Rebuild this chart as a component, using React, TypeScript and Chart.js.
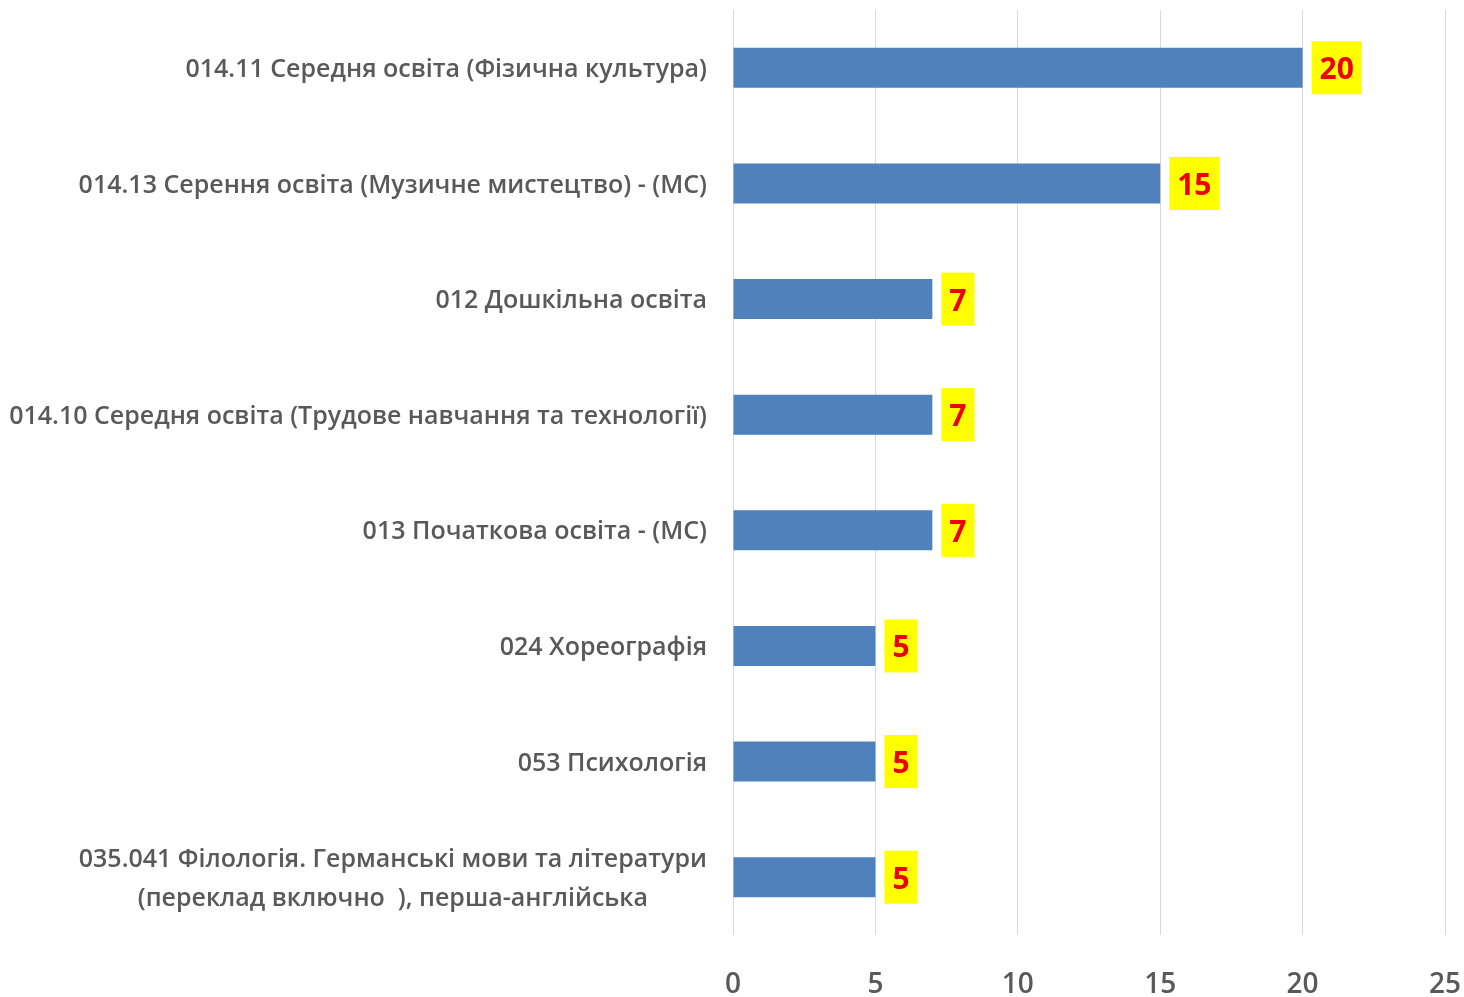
import React, { useEffect, useRef } from "react";
import { Chart, registerables } from "chart.js";

Chart.register(...registerables);

const categories: (string | string[])[] = [
  "014.11 Середня освіта (Фізична культура)",
  "014.13 Серення освіта (Музичне мистецтво) - (МС)",
  "012 Дошкільна освіта",
  "014.10 Середня освіта (Трудове навчання та технології)",
  "013 Початкова освіта - (МС)",
  "024 Хореографія",
  "053 Психологія",
  ["035.041 Філологія. Германські мови та літератури", "(переклад включно  ), перша-англійська"],
];
const values: number[] = [20, 15, 7, 7, 7, 5, 5, 5];
const xTicks: number[] = [0, 5, 10, 15, 20, 25];

const LABEL_FONT = "600 25px 'Open Sans'";
const VALUE_FONT = "bold 30px 'Open Sans'";
const GRAY = "#595959";

const categoryLabelPlugin = {
  id: "categoryLabels",
  afterDraw(chart: any) {
    const ctx = chart.ctx;
    const yScale = chart.scales.y;
    const rightX = chart.chartArea.left - 26;
    ctx.save();
    ctx.font = LABEL_FONT;
    ctx.fillStyle = GRAY;
    ctx.textBaseline = "middle";
    categories.forEach((lab, i) => {
      const yc = yScale.getPixelForValue(i) + 2;
      if (Array.isArray(lab)) {
        const widths = lab.map((l) => ctx.measureText(l).width);
        const maxW = Math.max(...widths);
        const cx = rightX - maxW / 2;
        const lh = 39;
        ctx.textAlign = "center";
        lab.forEach((l, k) => {
          ctx.fillText(l, cx, yc + (k - (lab.length - 1) / 2) * lh);
        });
      } else {
        ctx.textAlign = "right";
        ctx.fillText(lab, rightX, yc);
      }
    });
    ctx.restore();
  },
};

const valueLabelPlugin = {
  id: "valueLabels",
  afterDatasetsDraw(chart: any) {
    const ctx = chart.ctx;
    const meta = chart.getDatasetMeta(0);
    ctx.save();
    ctx.font = VALUE_FONT;
    meta.data.forEach((bar: any, i: number) => {
      const txt = String(values[i]);
      const tw = ctx.measureText(txt).width;
      const padX = 8;
      const boxW = tw + padX * 2;
      const boxH = 53;
      const x0 = bar.x + 9;
      const y0 = bar.y - boxH / 2;
      ctx.fillStyle = "#FFFF00";
      ctx.fillRect(x0, y0, boxW, boxH);
      ctx.fillStyle = "#EE0000";
      ctx.textAlign = "center";
      ctx.textBaseline = "middle";
      ctx.fillText(txt, x0 + boxW / 2, bar.y + 3);
    });
    ctx.restore();
  },
};

export default function App() {
  const canvasRef = useRef<HTMLCanvasElement | null>(null);

  useEffect(() => {
    document.body.style.margin = "0";
    const canvas = canvasRef.current;
    if (!canvas) return;
    const chart = new Chart(canvas, {
      type: "bar",
      data: {
        labels: categories.map((_, i) => String(i)),
        datasets: [
          {
            data: values,
            backgroundColor: "#4F81BD",
            borderWidth: 0,
            barPercentage: 0.346,
            categoryPercentage: 1,
          },
        ],
      },
      options: {
        indexAxis: "y",
        animation: false,
        responsive: false,
        maintainAspectRatio: false,
        layout: { padding: { top: 10, right: 19, left: 0, bottom: 0 } },
        plugins: {
          legend: { display: false },
          tooltip: { enabled: false },
        },
        scales: {
          x: {
            type: "linear",
            min: 0,
            max: 25,
            afterBuildTicks: (scale: any) => {
              scale.ticks = xTicks.map((v) => ({ value: v }));
            },
            afterFit: (scale: any) => {
              scale.height = 62;
              scale.paddingLeft = 0;
              scale.paddingRight = 0;
            },
            grid: { color: "#D9D9D9", lineWidth: 1, drawTicks: false },
            border: { display: false },
            ticks: {
              padding: 33,
              color: GRAY,
              font: { family: "'Open Sans'", size: 28, weight: 600 },
            },
          },
          y: {
            type: "category",
            afterFit: (scale: any) => {
              scale.width = 733;
              scale.paddingTop = 0;
              scale.paddingBottom = 0;
            },
            grid: { display: false },
            border: { display: false },
            ticks: { display: false },
          },
        },
      },
      plugins: [valueLabelPlugin, categoryLabelPlugin],
    });
    return () => chart.destroy();
  }, []);

  return (
    <div style={{ width: 1464, height: 997, background: "#fff" }}>
      <canvas ref={canvasRef} width={1464} height={997} style={{ display: "block" }} />
    </div>
  );
}
